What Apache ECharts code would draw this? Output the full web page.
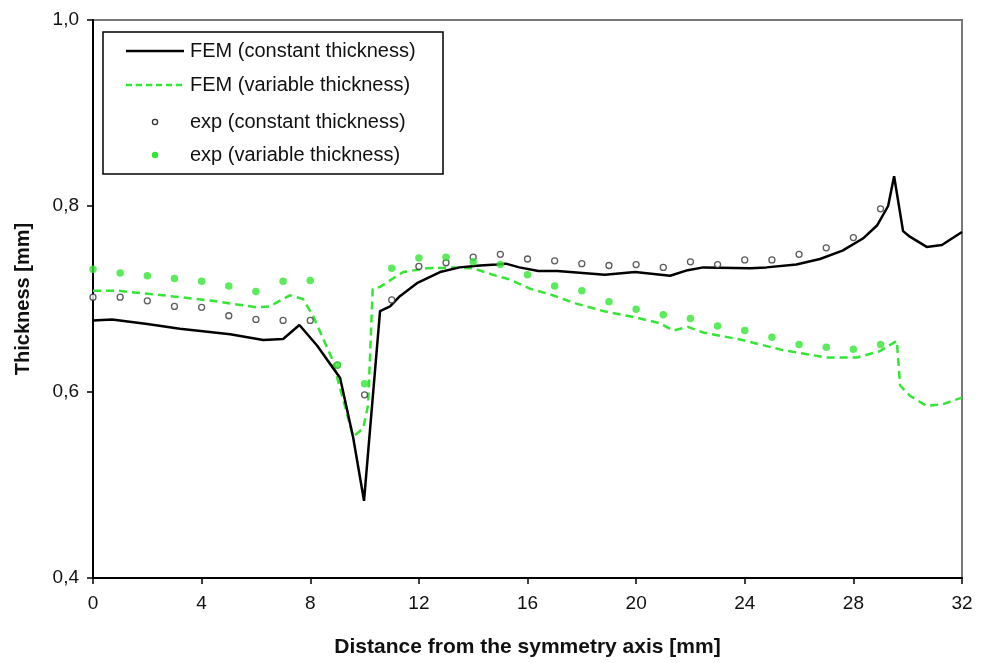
<!DOCTYPE html>
<html>
<head>
<meta charset="utf-8">
<script src="https://cdn.jsdelivr.net/npm/echarts@6/dist/echarts.min.js"></script>
<style>
  html, body { margin: 0; padding: 0; background: #fff; }
  #chart { width: 988px; height: 663px; }
</style>
</head>
<body>
<div id="chart"></div>
<script>
// FEM, constant sheet thickness
const femConstX = [0, 0.7, 2, 3.2, 5.05, 6.27, 7.0, 7.6, 8.25, 9.1, 9.58, 9.98, 10.57, 10.94, 11.3, 11.93, 12.78, 13.5, 14.25, 14.87, 15.2, 15.7, 16.4, 17.1, 18.85, 19.96, 21.25, 21.9, 22.47, 24.2, 24.8, 25.9, 26.77, 27.6, 28.35, 28.87, 29.28, 29.5, 29.83, 30.08, 30.7, 31.26, 32];
const femConstY = [0.677, 0.678, 0.673, 0.668, 0.662, 0.656, 0.657, 0.672, 0.650, 0.615, 0.551, 0.483, 0.687, 0.692, 0.703, 0.717, 0.729, 0.734, 0.736, 0.737, 0.738, 0.734, 0.730, 0.730, 0.726, 0.729, 0.725, 0.731, 0.734, 0.733, 0.734, 0.737, 0.743, 0.752, 0.765, 0.779, 0.800, 0.832, 0.773, 0.767, 0.756, 0.758, 0.772];

// FEM, variable sheet thickness
const femVarX = [0, 0.88, 2.58, 4.42, 6.03, 6.5, 7.25, 7.73, 8.1, 8.8, 9.46, 9.58, 9.95, 10.13, 10.3, 10.57, 10.94, 11.42, 12.3, 13.26, 14.0, 14.73, 15.35, 16.1, 16.83, 17.8, 18.8, 20.0, 20.87, 21.36, 21.9, 22.47, 23.9, 25.4, 27.03, 28.13, 28.98, 29.6, 29.72, 30.08, 30.7, 31.3, 32];
const femVarY = [0.709, 0.709, 0.704, 0.698, 0.691, 0.692, 0.704, 0.700, 0.682, 0.636, 0.565, 0.552, 0.561, 0.586, 0.711, 0.713, 0.720, 0.729, 0.733, 0.734, 0.733, 0.726, 0.721, 0.711, 0.705, 0.695, 0.687, 0.680, 0.674, 0.666, 0.670, 0.664, 0.656, 0.645, 0.637, 0.637, 0.644, 0.655, 0.607, 0.596, 0.585, 0.587, 0.594];

// Measurements, sampled every millimetre
const expX = [0, 1, 2, 3, 4, 5, 6, 7, 8, 9, 10, 11, 12, 13, 14, 15, 16, 17, 18, 19, 20, 21, 22, 23, 24, 25, 26, 27, 28, 29];
const expConstY = [0.702, 0.702, 0.698, 0.692, 0.691, 0.682, 0.678, 0.677, 0.677, 0.629, 0.597, 0.699, 0.735, 0.739, 0.745, 0.748, 0.743, 0.741, 0.738, 0.736, 0.737, 0.734, 0.740, 0.737, 0.742, 0.742, 0.748, 0.755, 0.766, 0.797];
const expVarY = [0.732, 0.728, 0.725, 0.722, 0.719, 0.714, 0.708, 0.719, 0.720, 0.629, 0.609, 0.733, 0.744, 0.745, 0.740, 0.737, 0.726, 0.714, 0.709, 0.697, 0.689, 0.683, 0.679, 0.671, 0.666, 0.659, 0.651, 0.648, 0.646, 0.651];

// Axis ticks
const xTicks = [0, 4, 8, 12, 16, 20, 24, 28, 32];
const yTicks = [0.4, 0.6, 0.8, 1.0];

const seriesNames = ['FEM (constant thickness)', 'FEM (variable thickness)', 'exp (constant thickness)', 'exp (variable thickness)'];

const GREEN = '#33e633';
const pairs = (xs, ys) => xs.map((x, i) => [x, ys[i]]);

const chart = echarts.init(document.getElementById('chart'), null, { renderer: 'canvas' });

const tickFont = "'Liberation Sans Narrow', 'Arial Narrow', 'Liberation Sans', Arial, sans-serif";
const font = "'Liberation Sans', Arial, sans-serif";

// Legend drawn as a boxed panel in the upper-left corner of the plot
const legendLeft = 103, legendTop = 32;
const rowY = [51, 85, 122, 155];
const legendGraphics = [
  { type: 'rect', shape: { x: legendLeft, y: legendTop, width: 340, height: 142 },
    style: { fill: '#fff', stroke: '#000', lineWidth: 1.5 }, z: 100 },
  { type: 'line', shape: { x1: 126, y1: rowY[0], x2: 184, y2: rowY[0] },
    style: { stroke: '#000', lineWidth: 2.5 }, z: 101 },
  { type: 'line', shape: { x1: 126, y1: rowY[1], x2: 184, y2: rowY[1] },
    style: { stroke: GREEN, lineWidth: 2.5, lineDash: [6, 4] }, z: 101 },
  { type: 'circle', shape: { cx: 155, cy: rowY[2], r: 2.6 },
    style: { fill: '#fff', stroke: '#333', lineWidth: 1.3 }, z: 101 },
  { type: 'circle', shape: { cx: 155, cy: rowY[3], r: 3.2 },
    style: { fill: GREEN }, z: 101 }
];
seriesNames.forEach((name, i) => {
  legendGraphics.push({
    type: 'text', x: 190, y: rowY[i],
    style: { text: name, font: '20px ' + font, fill: '#111', verticalAlign: 'middle' }, z: 101
  });
});

chart.setOption({
  animation: false,
  backgroundColor: '#fff',
  grid: { left: 93, right: 26, top: 20, bottom: 82, show: true, borderColor: '#777', borderWidth: 2 },
  xAxis: {
    type: 'value', min: 0, max: 32, interval: 4,
    name: 'Distance from the symmetry axis [mm]',
    nameLocation: 'middle', nameGap: 59,
    nameTextStyle: { fontFamily: font, fontWeight: 'bold', fontSize: 21, color: '#111' },
    axisLine: { show: true, onZero: false, lineStyle: { color: '#000', width: 2 } },
    axisTick: { show: true, length: 6, lineStyle: { color: '#000', width: 1.5 } },
    axisLabel: { margin: 16, fontFamily: tickFont, fontSize: 19, color: '#111',
      formatter: v => (xTicks.includes(v) ? String(v) : '') },
    splitLine: { show: false }
  },
  yAxis: {
    type: 'value', min: 0.4, max: 1.0, interval: 0.2,
    name: 'Thickness [mm]',
    nameLocation: 'middle', nameGap: 60, nameRotate: 90,
    nameTextStyle: { fontFamily: font, fontWeight: 'bold', fontSize: 20, color: '#111' },
    axisLine: { show: true, lineStyle: { color: '#000', width: 2 } },
    axisTick: { show: true, length: 6, lineStyle: { color: '#000', width: 1.5 } },
    axisLabel: { margin: 14, fontFamily: tickFont, fontSize: 19, color: '#111',
      formatter: v => {
        const t = yTicks.find(k => Math.abs(k - v) < 1e-6);
        return t === undefined ? '' : t.toFixed(1).replace('.', ',');
      } },
    splitLine: { show: false }
  },
  graphic: legendGraphics,
  series: [
    {
      name: seriesNames[0], type: 'line', data: pairs(femConstX, femConstY),
      showSymbol: false, smooth: false,
      lineStyle: { color: '#000', width: 2.5 }, z: 3
    },
    {
      name: seriesNames[1], type: 'line', data: pairs(femVarX, femVarY),
      showSymbol: false, smooth: false,
      lineStyle: { color: GREEN, width: 2.5, type: [8, 5] }, z: 2
    },
    {
      name: seriesNames[2], type: 'scatter', data: pairs(expX, expConstY),
      symbol: 'circle', symbolSize: 6,
      itemStyle: { color: '#fff', borderColor: '#333', borderWidth: 1.3 }, z: 4
    },
    {
      name: seriesNames[3], type: 'scatter', data: pairs(expX, expVarY),
      symbol: 'circle', symbolSize: 7.5,
      itemStyle: { color: GREEN }, z: 5
    }
  ]
});
</script>
</body>
</html>
